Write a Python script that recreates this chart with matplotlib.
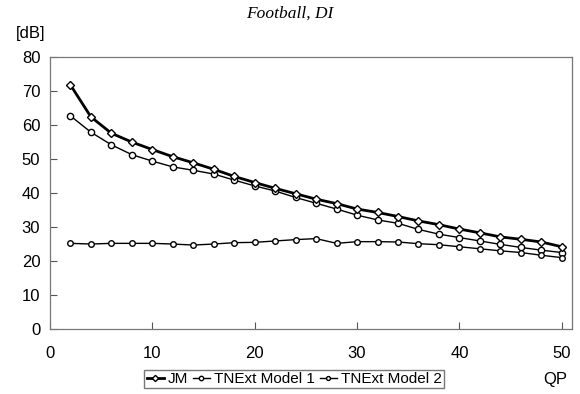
import matplotlib
matplotlib.use("Agg")
import matplotlib.pyplot as plt

plt.rcParams['font.family'] = ['Liberation Sans Narrow', 'Liberation Sans', 'DejaVu Sans']

qp = list(range(2, 51, 2))
jm = [71.8, 62.4, 57.6, 55.0, 52.8, 50.7, 48.9, 47.0, 44.9, 43.1, 41.4, 39.8, 38.2,
      36.9, 35.3, 34.3, 33.1, 31.8, 30.7, 29.4, 28.3, 27.1, 26.4, 25.6, 24.2]
model1 = [62.7, 57.9, 54.2, 51.3, 49.4, 47.7, 46.7, 45.6, 43.8, 42.1, 40.6, 38.7, 37.0,
          35.3, 33.5, 32.1, 31.1, 29.3, 27.9, 26.9, 25.9, 24.9, 24.0, 23.2, 22.5]
model2 = [25.2, 25.0, 25.2, 25.2, 25.2, 25.0, 24.7, 25.0, 25.4, 25.5, 25.9, 26.3, 26.6,
          25.2, 25.7, 25.7, 25.6, 25.1, 24.8, 24.2, 23.6, 23.0, 22.5, 21.7, 21.0]
x_ticks = [0, 10, 20, 30, 40, 50]
y_ticks = [0, 10, 20, 30, 40, 50, 60, 70, 80]

fig = plt.figure(figsize=(5.8, 3.94), dpi=100)
ax = fig.add_axes([0.0862, 0.165, 0.9, 0.69])

ax.plot(qp, jm, color='black', lw=2.0, marker='D', ms=4.5, mfc='white', mec='black', mew=1.0,
        label='JM', zorder=4)
ax.plot(qp, model1, color='black', lw=1.0, marker='o', ms=4.5, mfc='white', mec='black', mew=1.0,
        label='TNExt Model 1', zorder=3)
ax.plot(qp, model2, color='black', lw=1.0, marker='o', ms=4, mfc='white', mec='black', mew=1.0,
        label='TNExt Model 2', zorder=3)

ax.set_xlim(0, 51)
ax.set_ylim(0, 80)
ax.set_xticks(x_ticks)
ax.set_yticks(y_ticks)
ax.tick_params(direction='in', length=5, width=0.8, colors='#555555', labelcolor='black',
               labelsize=12)
ax.tick_params(axis='x', pad=12)
ax.tick_params(axis='y', pad=7)
for s in ax.spines.values():
    s.set_color('#777777')
    s.set_linewidth(0.9)

fig.text(0.5, 0.965, 'Football, DI', ha='center', va='center', fontsize=12.5,
         family=['Liberation Serif'], style='italic')
fig.text(0.052, 0.915, '[dB]', ha='center', va='center', fontsize=12)
fig.text(0.957, 0.038, 'QP', ha='center', va='center', fontsize=12)

fig.legend(loc='center', bbox_to_anchor=(0.507, 0.038), ncol=3, fontsize=11,
           handlelength=1.1, handletextpad=0.25, columnspacing=0.35, borderpad=0.15,
           fancybox=False, edgecolor='#777777', framealpha=1, markerscale=0.7)

fig.savefig('out.png', dpi=100)
